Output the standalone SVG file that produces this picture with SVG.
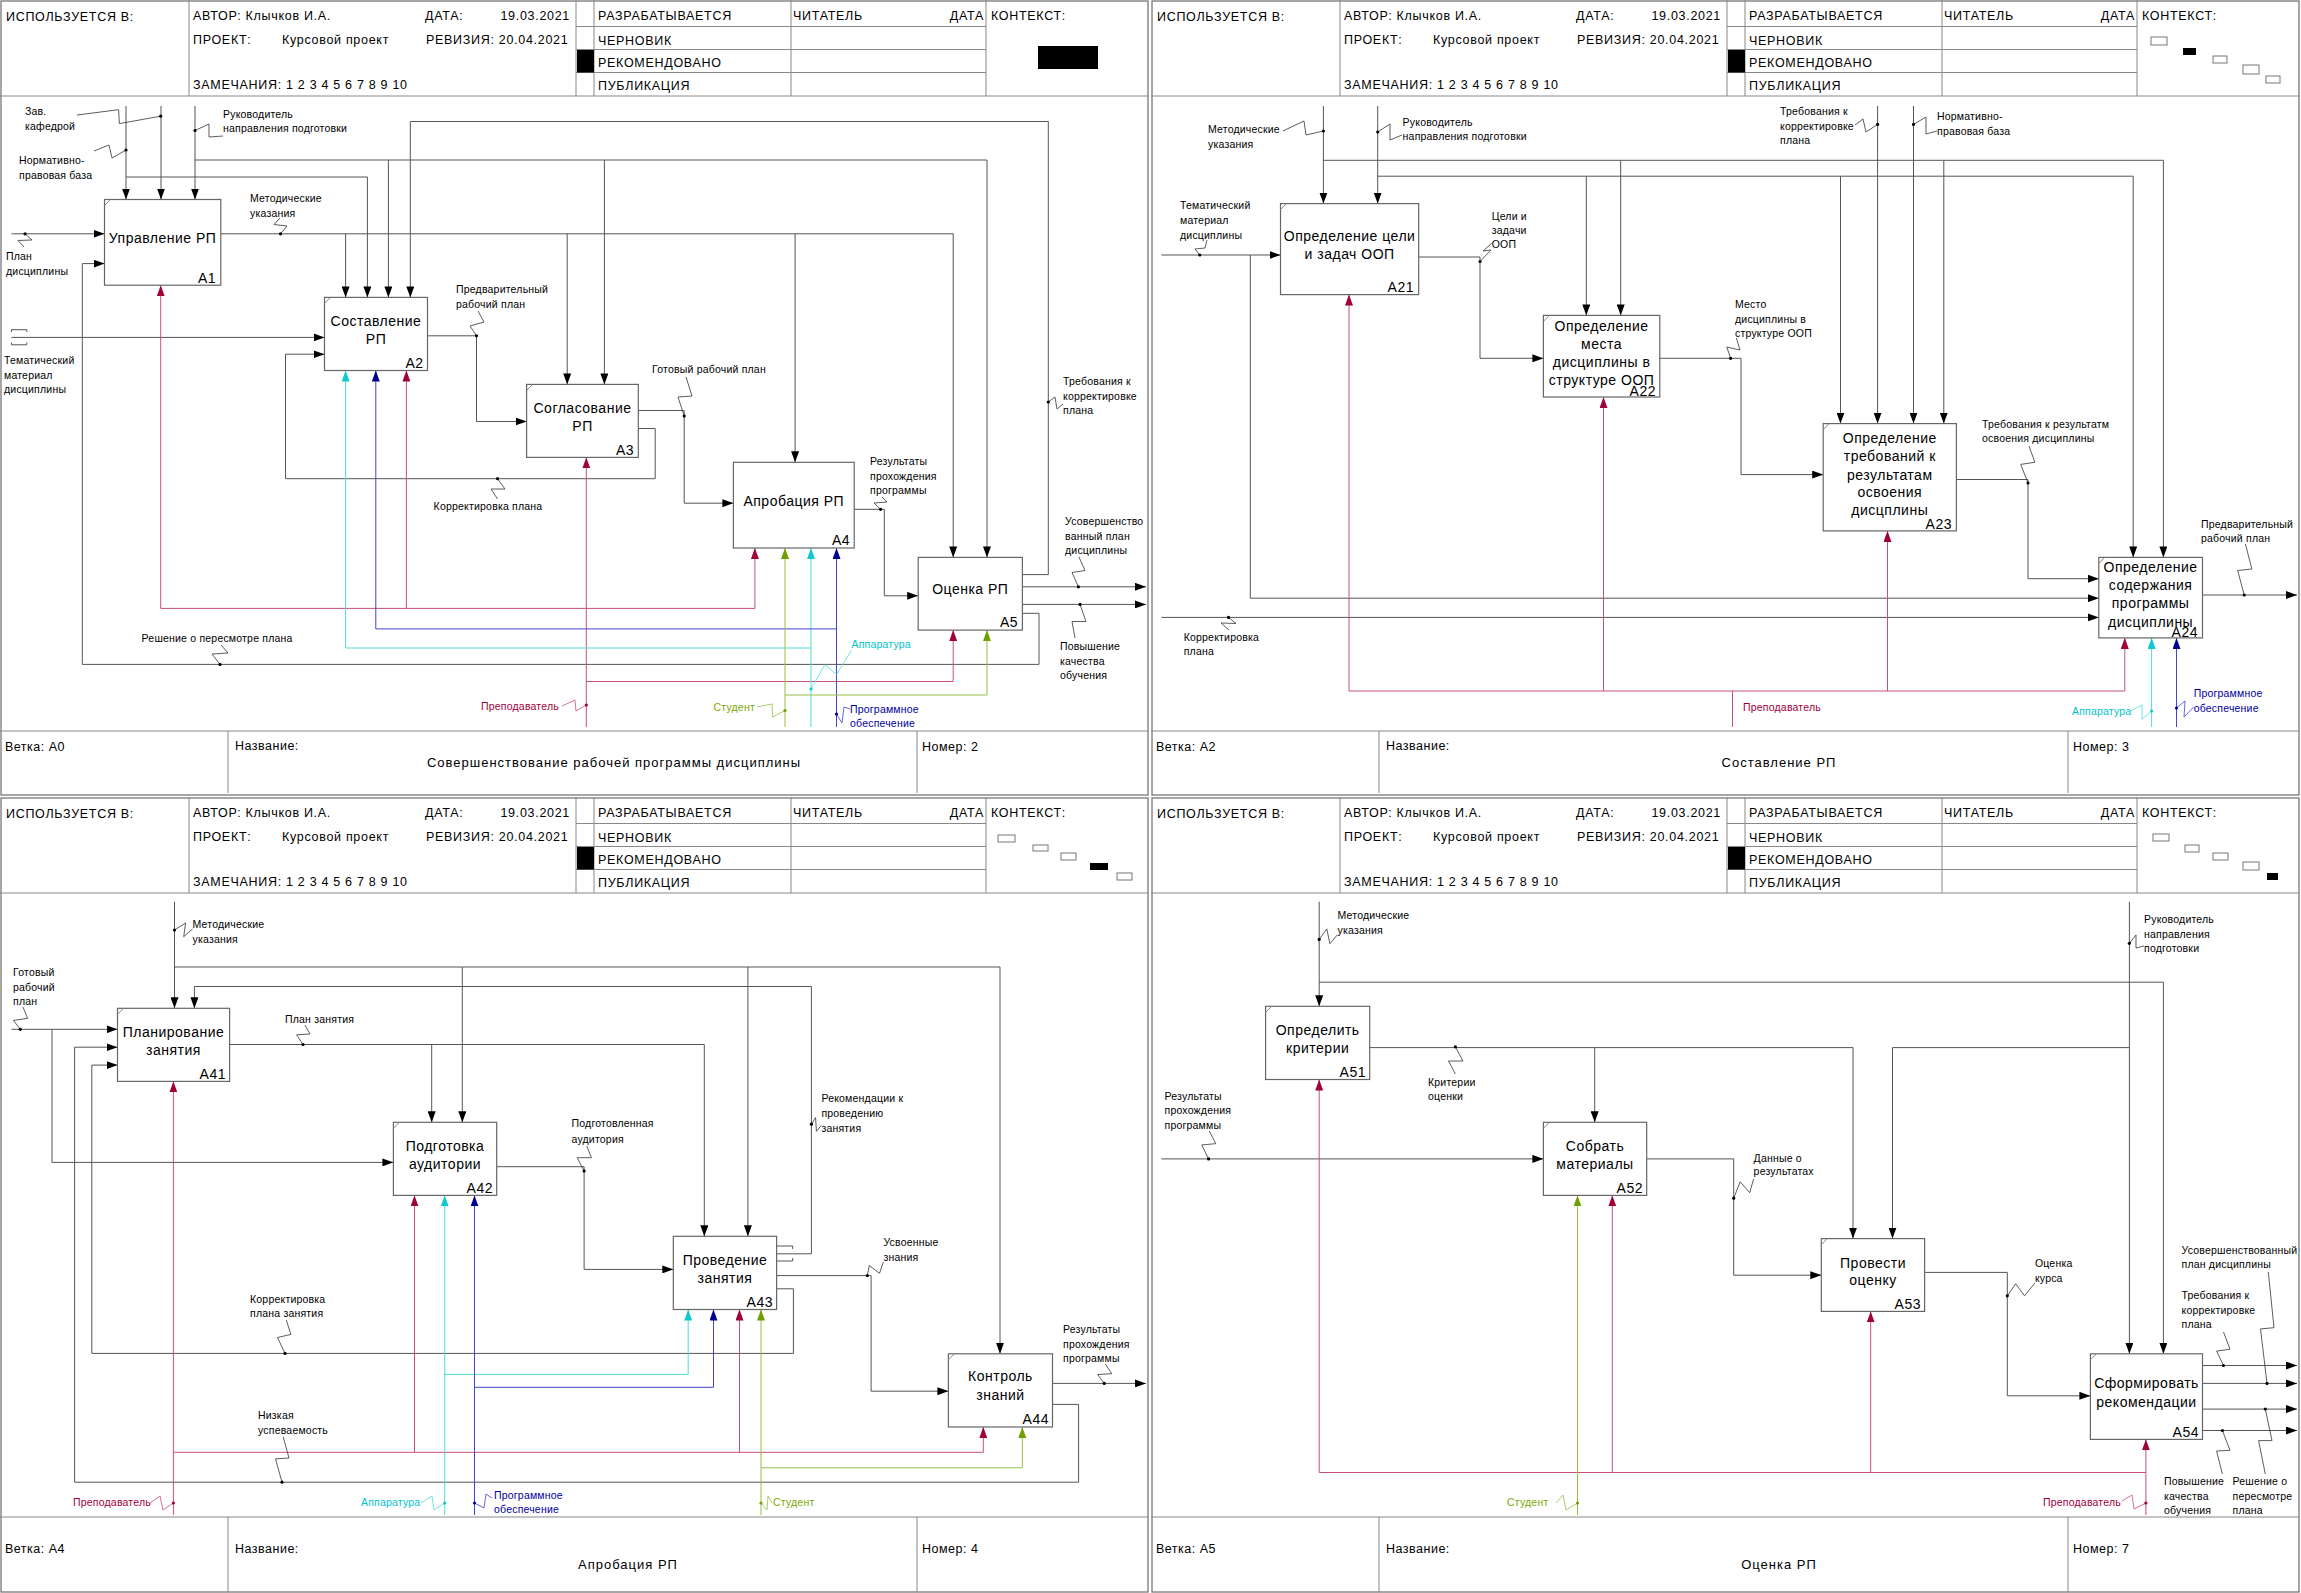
<svg xmlns="http://www.w3.org/2000/svg" width="2301" height="1593" viewBox="0 0 2301 1593">
<style>
text{font-family:"Liberation Sans",Arial,sans-serif;fill:#000}
.ht{font-size:12.5px;letter-spacing:0.7px}
.ft{font-size:12.5px;letter-spacing:0.5px}
.tt{font-size:13px;letter-spacing:1px;text-anchor:middle}
.pb{fill:none;stroke:#777;stroke-width:1.3}
.gl{fill:none;stroke:#888;stroke-width:1}
.bx{fill:#fff;stroke:#666;stroke-width:1.2}
.bt{font-size:14px;letter-spacing:0.5px;text-anchor:middle}
.bn{font-size:14px;text-anchor:end;letter-spacing:0.5px}
.lb{font-size:10.5px;letter-spacing:0.2px}
.k{fill:none;stroke:#555;stroke-width:1}
.ka{marker-end:url(#mk)}
.r{fill:none;stroke:#c8507a;stroke-width:1}
.ra{marker-end:url(#mr)}
.y{fill:none;stroke:#4fdcdc;stroke-width:1}
.ya{marker-end:url(#my)}
.u{fill:none;stroke:#4444cc;stroke-width:1}
.ua{marker-end:url(#mu)}
.g{fill:none;stroke:#96be46;stroke-width:1}
.ga{marker-end:url(#mg)}
.sq{fill:none;stroke:#333;stroke-width:0.8}
.sr{fill:none;stroke:#c8507a;stroke-width:0.8}
.sy{fill:none;stroke:#4fdcdc;stroke-width:0.8}
.su{fill:none;stroke:#4444cc;stroke-width:0.8}
.sg{fill:none;stroke:#96be46;stroke-width:0.8}
.d{fill:#000}
.tr{fill:#a0003c}.ty{fill:#00c4cc}.tu{fill:#0000a0}.tg{fill:#78aa00}
.cw{fill:#fff;stroke:#777;stroke-width:1}
</style>
<defs>
<marker id="mk" viewBox="0 0 11 8" refX="11" refY="4" markerWidth="11" markerHeight="8" markerUnits="userSpaceOnUse" orient="auto"><path d="M0,0L11,4L0,8z" fill="#000"/></marker>
<marker id="mr" viewBox="0 0 11 8" refX="11" refY="4" markerWidth="11" markerHeight="8" markerUnits="userSpaceOnUse" orient="auto"><path d="M0,0L11,4L0,8z" fill="#a0003c"/></marker>
<marker id="my" viewBox="0 0 11 8" refX="11" refY="4" markerWidth="11" markerHeight="8" markerUnits="userSpaceOnUse" orient="auto"><path d="M0,0L11,4L0,8z" fill="#10c8d0"/></marker>
<marker id="mu" viewBox="0 0 11 8" refX="11" refY="4" markerWidth="11" markerHeight="8" markerUnits="userSpaceOnUse" orient="auto"><path d="M0,0L11,4L0,8z" fill="#000090"/></marker>
<marker id="mg" viewBox="0 0 11 8" refX="11" refY="4" markerWidth="11" markerHeight="8" markerUnits="userSpaceOnUse" orient="auto"><path d="M0,0L11,4L0,8z" fill="#70a000"/></marker>
<g id="hdr">
<path class="gl" d="M0,96H1148M189,0V96M576,0V96M594,0V96M791,0V96M986,0V96M576,26.5H986M576,49.5H986M576,72.5H986"/>
<rect x="577" y="50" width="17" height="22.5" fill="#000"/>
<text class="ht" x="6" y="21">ИСПОЛЬЗУЕТСЯ В:</text>
<text class="ht" x="193" y="20">АВТОР: Клычков И.А.</text>
<text class="ht" x="425" y="20">ДАТА:</text>
<text class="ht" x="570" y="20" text-anchor="end">19.03.2021</text>
<text class="ht" x="193" y="44">ПРОЕКТ:</text>
<text class="ht" x="282" y="44">Курсовой проект</text>
<text class="ht" x="426" y="44">РЕВИЗИЯ: 20.04.2021</text>
<text class="ht" x="193" y="89">ЗАМЕЧАНИЯ: 1 2 3 4 5 6 7 8 9 10</text>
<text class="ht" x="598" y="20">РАЗРАБАТЫВАЕТСЯ</text>
<text class="ht" x="793" y="20">ЧИТАТЕЛЬ</text>
<text class="ht" x="984" y="20" text-anchor="end">ДАТА</text>
<text class="ht" x="991" y="20">КОНТЕКСТ:</text>
<text class="ht" x="598" y="45">ЧЕРНОВИК</text>
<text class="ht" x="598" y="67">РЕКОМЕНДОВАНО</text>
<text class="ht" x="598" y="90">ПУБЛИКАЦИЯ</text>
</g>
<g id="ftr">
<path class="gl" d="M0,0H1148M228,0V62M917,0V62"/>
<text class="ft" x="235" y="19">Название:</text>
</g>
<g id="ftr2">
<path class="gl" d="M0,0H1148M228,0V75M917,0V75"/>
<text class="ft" x="235" y="36">Название:</text>
</g>
</defs>

<!-- ================= PANEL A0 ================= -->
<g id="panel-A0">
<rect class="pb" x="1" y="1" width="1147" height="794"/>
<use href="#hdr"/>
<rect x="1038" y="46" width="60" height="23" fill="#000"/>
<g transform="translate(0,731)">
<use href="#ftr"/>
<text class="ft" x="5" y="20">Ветка: A0</text>
<text class="ft" x="922" y="20">Номер: 2</text>
<text class="tt" x="614" y="36">Совершенствование рабочей программы дисциплины</text>
</g>
<g id="connectors-A0">
<path class="k ka" d="M161,106V199.5"/>
<path class="k ka" d="M126,106V199.5"/>
<path class="k ka" d="M195,106V199.5"/>
<path class="k ka" d="M126,177H367.4V297.4"/>
<path class="k ka" d="M195,160H388.4V297.4"/>
<path class="k ka" d="M388.4,160H604.4V384.4"/>
<path class="k ka" d="M604.4,160H987V557.4"/>
<path class="k ka" d="M1022.4,574.6H1048.3V121.5H410.3V297.4"/>
<path class="k ka" d="M220.8,233.8H953.2V557.4"/>
<path class="k ka" d="M345.6,233.8V297.4"/>
<path class="k ka" d="M567.2,233.8V384.4"/>
<path class="k ka" d="M795.1,233.8V462.3"/>
<path class="k ka" d="M11.5,233.8H104.5"/>
<path class="k ka" d="M1022.4,613.3H1039V664.4H82.3V263.6H104.5"/>
<path class="k ka" d="M11.5,337.4H324.5"/>
<path class="k" d="M11.5,332V329.7H26.8V332M11.5,342.5V344.8H26.8V342.5"/>
<path class="k ka" d="M638.3,428.5H655.2V478.7H285.5V354.2H324.5"/>
<path class="k ka" d="M427.5,335.8H476.5V421.5H526.6"/>
<path class="k ka" d="M638.3,410.5H684.2V503.2H733.4"/>
<path class="k ka" d="M854.2,509.3H884.3V595.8H918.2"/>
<path class="k ka" d="M1022.4,586.8H1146"/>
<path class="k ka" d="M1022.4,604.4H1146"/>
<path class="r ra" d="M586.3,727V457.4"/>
<path class="r" d="M160.7,608.4H754.9"/>
<path class="r ra" d="M160.7,608.4V285.2"/>
<path class="r ra" d="M406.4,608.4V370.5"/>
<path class="r ra" d="M754.9,608.4V548"/>
<path class="r ra" d="M586.3,681.5H953.2V630.1"/>
<path class="y ya" d="M811,727V548"/>
<path class="y ya" d="M811,648H345.6V370.5"/>
<path class="u ua" d="M836.5,727V548"/>
<path class="u ua" d="M836.5,628.9H375.8V370.5"/>
<path class="g ga" d="M785,727V548"/>
<path class="g ga" d="M785,695H987V630.1"/>
<path class="sq" d="M77,115L118.6,109.7L119.4,123.6L160.7,116.2"/>
<path class="sq" d="M94,151L109,145L112,158L126,150"/>
<path class="sq" d="M223,136L209,137L209,124L195,130.5"/>
<path class="sq" d="M280.5,233.8L287,226L274,224.5L280,218"/>
<path class="sq" d="M25,233.8L32,240L18,240.5L24,247"/>
<path class="sq" d="M220,664.4L212,654L228,653L221,645"/>
<path class="sq" d="M497.5,478.7L505,489L491,489L497.5,499"/>
<path class="sq" d="M476.5,335.8L470,326L484,322L478,311"/>
<path class="sq" d="M684.2,416L678,397L692,396L686,377"/>
<path class="sq" d="M880.5,509.3L874,503L887,502L882,497"/>
<path class="sq" d="M1048.3,402L1055,397L1057,409L1063,404"/>
<path class="sq" d="M1078.4,586.8L1072,572.5L1085,570.5L1079,557"/>
<path class="sq" d="M1080,604.4L1086,621.5L1072,621.5L1075,638"/>
<path class="sr" d="M562,706L575,700L576,711L586.3,705"/>
<path class="sy" d="M851.5,650L836.5,674.6L825,664.5L811,689"/>
<path class="su" d="M850,709L844,707L842,723L836.5,714"/>
<path class="sg" d="M757,707L772,704L772.5,717L785,710.5"/>
<circle class="d" cx="160.7" cy="116.2" r="1.6"/><circle class="d" cx="126" cy="150" r="1.6"/><circle class="d" cx="195" cy="130.5" r="1.6"/>
<circle class="d" cx="280.5" cy="233.8" r="1.6"/><circle class="d" cx="25" cy="233.8" r="1.6"/><circle class="d" cx="220" cy="664.4" r="1.6"/>
<circle class="d" cx="497.5" cy="478.7" r="1.6"/><circle class="d" cx="476.5" cy="335.8" r="1.6"/><circle class="d" cx="684.2" cy="416" r="1.6"/>
<circle class="d" cx="880.5" cy="509.3" r="1.6"/><circle class="d" cx="1048.3" cy="402" r="1.6"/><circle class="d" cx="1078.4" cy="586.8" r="1.6"/>
<circle class="d" cx="1080" cy="604.4" r="1.6"/>
<circle cx="586.3" cy="705" r="1.6" fill="#a0003c"/><circle cx="811" cy="689" r="1.6" fill="#10c8d0"/><circle cx="836.5" cy="714" r="1.6" fill="#000090"/><circle cx="785" cy="710.5" r="1.6" fill="#70a000"/>
<text class="lb" x="25" y="115">Зав.</text><text class="lb" x="25" y="130">кафедрой</text>
<text class="lb" x="19" y="164">Нормативно-</text><text class="lb" x="19" y="179">правовая база</text>
<text class="lb" x="223" y="118">Руководитель</text><text class="lb" x="223" y="132">направления подготовки</text>
<text class="lb" x="250" y="202">Методические</text><text class="lb" x="250" y="217">указания</text>
<text class="lb" x="6" y="260">План</text><text class="lb" x="6" y="275">дисциплины</text>
<text class="lb" x="4" y="364">Тематический</text><text class="lb" x="4" y="378.5">материал</text><text class="lb" x="4" y="393">дисциплины</text>
<text class="lb" x="456" y="293">Предварительный</text><text class="lb" x="456" y="308">рабочий план</text>
<text class="lb" x="433.6" y="510">Корректировка плана</text>
<text class="lb" x="652" y="373">Готовый рабочий план</text>
<text class="lb" x="870" y="465">Результаты</text><text class="lb" x="870" y="479.5">прохождения</text><text class="lb" x="870" y="494">программы</text>
<text class="lb" x="1063" y="385">Требования к</text><text class="lb" x="1063" y="399.5">корректировке</text><text class="lb" x="1063" y="414">плана</text>
<text class="lb" x="1065" y="525">Усовершенство</text><text class="lb" x="1065" y="539.5">ванный план</text><text class="lb" x="1065" y="554">дисциплины</text>
<text class="lb" x="1060" y="650">Повышение</text><text class="lb" x="1060" y="664.5">качества</text><text class="lb" x="1060" y="679">обучения</text>
<text class="lb" x="141.6" y="642">Решение о пересмотре плана</text>
<text class="lb tr" x="481" y="710">Преподаватель</text>
<text class="lb ty" x="851.5" y="648">Аппаратура</text>
<text class="lb tu" x="850" y="713">Программное</text><text class="lb tu" x="850" y="727">обеспечение</text>
<text class="lb tg" x="713.5" y="711">Студент</text>
</g>
<g id="A1"><rect class="bx" x="104.5" y="199.5" width="116.3" height="85.7"/><path class="gl" d="M104.5,205.5L110.5,199.5"/><text class="bt" x="162.6" y="243">Управление РП</text><text class="bn" x="216" y="283">A1</text></g>
<g id="A2"><rect class="bx" x="324.5" y="297.4" width="103" height="73.1"/><path class="gl" d="M324.5,303.4L330.5,297.4"/><text class="bt" x="376" y="325.5">Составление</text><text class="bt" x="376" y="344">РП</text><text class="bn" x="423.5" y="368">A2</text></g>
<g id="A3"><rect class="bx" x="526.6" y="384.4" width="111.7" height="73"/><path class="gl" d="M526.6,390.4L532.6,384.4"/><text class="bt" x="582.5" y="413">Согласование</text><text class="bt" x="582.5" y="430.5">РП</text><text class="bn" x="634" y="455">A3</text></g>
<g id="A4"><rect class="bx" x="733.4" y="462.3" width="120.8" height="85.7"/><text class="bt" x="793.8" y="506">Апробация РП</text><text class="bn" x="850" y="545">A4</text></g>
<g id="A5"><rect class="bx" x="918.2" y="557.4" width="104.2" height="72.7"/><text class="bt" x="970.3" y="594">Оценка РП</text><text class="bn" x="1018" y="627">A5</text></g>
</g>

<!-- ================= PANEL A2 ================= -->
<g id="panel-A2">
<rect class="pb" x="1152" y="1" width="1147" height="794"/>
<use href="#hdr" x="1151"/>
<rect class="cw" x="2151" y="37" width="16" height="8"/>
<rect x="2183" y="48" width="13" height="7" fill="#000"/>
<rect class="cw" x="2213" y="56" width="14" height="7"/>
<rect class="cw" x="2243" y="65" width="16" height="9"/>
<rect class="cw" x="2266" y="76" width="14" height="7"/>
<g transform="translate(1151,731)">
<use href="#ftr"/>
<text class="ft" x="5" y="20">Ветка: A2</text>
<text class="ft" x="922" y="20">Номер: 3</text>
<text class="tt" x="628" y="36">Составление РП</text>
</g>
<g id="connectors-A2">
<path class="k ka" d="M1323.4,106V203.6"/>
<path class="k ka" d="M1377.7,106V203.6"/>
<path class="k ka" d="M1323.4,160.3H1620.7V315.4"/>
<path class="k ka" d="M1620.7,160.3H1943.8V423.6"/>
<path class="k ka" d="M1943.8,160.3H2163.4V557.4"/>
<path class="k ka" d="M1377.7,176.2H1586.3V315.4"/>
<path class="k ka" d="M1586.3,176.2H1840.5V423.6"/>
<path class="k ka" d="M1840.5,176.2H2133.2V557.4"/>
<path class="k ka" d="M1877.6,106V423.6"/>
<path class="k ka" d="M1913.5,106V423.6"/>
<path class="k ka" d="M1161.5,255H1280.5"/>
<path class="k ka" d="M1250.3,255V598.2H2098.8"/>
<path class="k ka" d="M1161.5,617.4H2098.8"/>
<path class="k ka" d="M1418.7,257H1480V358.3H1543.4"/>
<path class="k ka" d="M1659.8,358.3H1741V474.6H1823.2"/>
<path class="k ka" d="M1956.4,479.5H2028V578.7H2098.8"/>
<path class="k ka" d="M2202.5,595H2297"/>
<path class="r" d="M1732.5,727V691M1349,691H2124.8"/>
<path class="r ra" d="M1349,691V294.6"/>
<path class="r ra" d="M1603.5,691V397"/>
<path class="r ra" d="M1887.5,691V530.9"/>
<path class="r ra" d="M2124.8,691V637.9"/>
<path class="y ya" d="M2151.6,727V637.9"/>
<path class="u ua" d="M2176.5,727V637.9"/>
<path class="sq" d="M1283,131L1304,121L1306,135L1323.4,131"/>
<path class="sq" d="M1402,135L1390,140L1390,124L1377.7,132"/>
<path class="sq" d="M1855,125L1863,119L1866,132L1877.6,124.4"/>
<path class="sq" d="M1937,131L1926,134L1926,117L1913.5,124.4"/>
<path class="sq" d="M1207,240L1205,248L1195,249L1199.8,255"/>
<path class="sq" d="M1228.5,617.4L1236,623.5L1221,623L1229,630"/>
<path class="sq" d="M1480,261.5L1491,250L1483,251L1492,243"/>
<path class="sq" d="M1730.6,358.3L1726.8,347L1740,350L1736.4,338"/>
<path class="sq" d="M2028,483L2020.7,464.4L2034.9,462.3L2029,446"/>
<path class="sq" d="M2244.2,595L2237.7,570.5L2251.9,569L2245.4,544"/>
<path class="sy" d="M2130.5,711L2142,705L2142,719.4L2151.6,711"/>
<path class="su" d="M2193.7,707L2184,717L2185,701L2176.5,708"/>
<circle class="d" cx="1323.4" cy="131" r="1.6"/><circle class="d" cx="1377.7" cy="132" r="1.6"/><circle class="d" cx="1877.6" cy="124.4" r="1.6"/>
<circle class="d" cx="1913.5" cy="124.4" r="1.6"/><circle class="d" cx="1199.8" cy="255" r="1.6"/><circle class="d" cx="1228.5" cy="617.4" r="1.6"/>
<circle class="d" cx="1480" cy="261.5" r="1.6"/><circle class="d" cx="1730.6" cy="358.3" r="1.6"/><circle class="d" cx="2028" cy="483" r="1.6"/>
<circle class="d" cx="2244.2" cy="595" r="1.6"/>
<circle cx="2151.6" cy="711" r="1.6" fill="#10c8d0"/><circle cx="2176.5" cy="708" r="1.6" fill="#000090"/>
<text class="lb" x="1208" y="133">Методические</text><text class="lb" x="1208" y="148">указания</text>
<text class="lb" x="1402.6" y="125.5">Руководитель</text><text class="lb" x="1402.6" y="140">направления подготовки</text>
<text class="lb" x="1780" y="115">Требования к</text><text class="lb" x="1780" y="129.5">корректировке</text><text class="lb" x="1780" y="144">плана</text>
<text class="lb" x="1937" y="120">Нормативно-</text><text class="lb" x="1937" y="134.5">правовая база</text>
<text class="lb" x="1180" y="209">Тематический</text><text class="lb" x="1180" y="224">материал</text><text class="lb" x="1180" y="239">дисциплины</text>
<text class="lb" x="1183.7" y="641">Корректировка</text><text class="lb" x="1183.7" y="655">плана</text>
<text class="lb" x="1491.7" y="219.5">Цели и</text><text class="lb" x="1491.7" y="234">задачи</text><text class="lb" x="1491.7" y="248">ООП</text>
<text class="lb" x="1735" y="308">Место</text><text class="lb" x="1735" y="322.5">дисциплины в</text><text class="lb" x="1735" y="337">структуре ООП</text>
<text class="lb" x="1982" y="428">Требования к результатм</text><text class="lb" x="1982" y="442">освоения дисциплины</text>
<text class="lb" x="2201" y="528">Предварительный</text><text class="lb" x="2201" y="542">рабочий план</text>
<text class="lb tr" x="1743" y="711">Преподаватель</text>
<text class="lb ty" x="2072" y="715">Аппаратура</text>
<text class="lb tu" x="2193.7" y="697">Программное</text><text class="lb tu" x="2193.7" y="712">обеспечение</text>
</g>
<g id="A21"><rect class="bx" x="1280.5" y="203.6" width="138.2" height="91"/><path class="gl" d="M1280.5,209.6L1286.5,203.6"/><text class="bt" x="1349.6" y="240.5">Определение цели</text><text class="bt" x="1349.6" y="259">и задач ООП</text><text class="bn" x="1414" y="292">A21</text></g>
<g id="A22"><rect class="bx" x="1543.4" y="315.4" width="116.4" height="81.6"/><path class="gl" d="M1543.4,321.4L1549.4,315.4"/><text class="bt" x="1601.6" y="331">Определение</text><text class="bt" x="1601.6" y="349">места</text><text class="bt" x="1601.6" y="367">дисциплины в</text><text class="bt" x="1601.6" y="385">структуре ООП</text><text class="bn" x="1656" y="396">A22</text></g>
<g id="A23"><rect class="bx" x="1823.2" y="423.6" width="133.2" height="107.3"/><path class="gl" d="M1823.2,429.6L1829.2,423.6"/><text class="bt" x="1889.8" y="443">Определение</text><text class="bt" x="1889.8" y="461">требований к</text><text class="bt" x="1889.8" y="479.6">результатам</text><text class="bt" x="1889.8" y="496.7">освоения</text><text class="bt" x="1889.8" y="515">дисцплины</text><text class="bn" x="1952" y="529">A23</text></g>
<g id="A24"><rect class="bx" x="2098.8" y="557.4" width="103.7" height="80.5"/><path class="gl" d="M2098.8,563.4L2104.8,557.4"/><text class="bt" x="2150.6" y="572">Определение</text><text class="bt" x="2150.6" y="589.8">содержания</text><text class="bt" x="2150.6" y="608">программы</text><text class="bt" x="2150.6" y="626.5">дисциплины</text><text class="bn" x="2198" y="636.5">A24</text></g>
</g>

<!-- ================= PANEL A4 ================= -->
<g id="panel-A4">
<rect class="pb" x="1" y="798" width="1147" height="794"/>
<use href="#hdr" y="797"/>
<rect class="cw" x="998" y="835" width="17" height="7"/>
<rect class="cw" x="1033" y="845" width="15" height="6"/>
<rect class="cw" x="1061" y="853" width="15" height="7"/>
<rect x="1090" y="863" width="18" height="7" fill="#000"/>
<rect class="cw" x="1117" y="873" width="15" height="7"/>
<g transform="translate(0,1517)">
<use href="#ftr2"/>
<text class="ft" x="5" y="36">Ветка: A4</text>
<text class="ft" x="922" y="36">Номер: 4</text>
<text class="tt" x="628" y="52">Апробация РП</text>
</g>
<g id="connectors-A4">
<path class="k ka" d="M174.5,901.7V1008.3"/>
<path class="k ka" d="M174.5,967H462.3V1122.3"/>
<path class="k ka" d="M462.3,967H747.9V1236.3"/>
<path class="k ka" d="M747.9,967H1000V1353.8"/>
<path class="k ka" d="M776.6,1253.8H811.4V986.5H194.4V1008.3"/>
<path class="k" d="M776.6,1246H792.7V1249M776.6,1261H792.7V1258"/>
<path class="k ka" d="M11.5,1029.3H117.5"/>
<path class="k ka" d="M52,1029.3V1162.4H393.4"/>
<path class="k ka" d="M1052.5,1404.4H1078.6V1482.2H74.6V1047.2H117.5"/>
<path class="k ka" d="M776.6,1288.8H793.4V1353.4H91.8V1065.1H117.5"/>
<path class="k ka" d="M229.6,1044.5H704.3V1236.3"/>
<path class="k ka" d="M431.7,1044.5V1122.3"/>
<path class="k ka" d="M496.7,1166.7H584.1V1269.4H673.3"/>
<path class="k ka" d="M776.6,1275.6H871.1V1391.2H948.4"/>
<path class="k ka" d="M1052.5,1383.4H1146"/>
<path class="r ra" d="M173.4,1515V1081.4"/>
<path class="r ra" d="M173.4,1452.3H983.3V1427"/>
<path class="r ra" d="M414.5,1452.3V1195.4"/>
<path class="r ra" d="M739.5,1452.3V1309.5"/>
<path class="y ya" d="M444.7,1515V1195.4"/>
<path class="y ya" d="M444.7,1374.4H688.2V1309.5"/>
<path class="u ua" d="M474.5,1515V1195.4"/>
<path class="u ua" d="M474.5,1387.3H713.5V1309.5"/>
<path class="g ga" d="M761,1515V1309.5"/>
<path class="g ga" d="M761,1467.8H1022.3V1427"/>
<path class="sq" d="M192.5,929L183.7,936.7L185.6,923L174.5,930"/>
<path class="sq" d="M20.3,1029.3L13.4,1020.4L27.6,1018.4L23,1007"/>
<path class="sq" d="M303,1044.5L296.6,1034.8L310,1034L305,1025"/>
<path class="sq" d="M584.1,1171L577.2,1157.7L591.4,1157.7L586.8,1146"/>
<path class="sq" d="M811.4,1124.2L815.6,1117.6L816.4,1131.3L821.4,1125.4"/>
<path class="sq" d="M867.3,1275.6L869.3,1265.5L879.5,1273.3L883.4,1262"/>
<path class="sq" d="M1104.2,1383.4L1097.7,1374.5L1111.8,1373.7L1105.3,1364"/>
<path class="sq" d="M285,1353.4L277.5,1337.5L290.9,1334.4L286.3,1320"/>
<path class="sq" d="M282,1482.2L275.5,1458.9L289,1458L283.2,1437"/>
<path class="sr" d="M150,1503L160,1496L163,1510L173.4,1503"/>
<path class="sy" d="M421,1503L432,1496L434,1510L444.7,1503"/>
<path class="su" d="M492,1498L486,1494L484,1508L474.5,1503"/>
<path class="sg" d="M772,1503L768,1496L767,1510L761,1503"/>
<circle class="d" cx="174.5" cy="930" r="1.6"/><circle class="d" cx="20.3" cy="1029.3" r="1.6"/><circle class="d" cx="303" cy="1044.5" r="1.6"/>
<circle class="d" cx="584.1" cy="1171" r="1.6"/><circle class="d" cx="811.4" cy="1124.2" r="1.6"/><circle class="d" cx="867.3" cy="1275.6" r="1.6"/>
<circle class="d" cx="1104.2" cy="1383.4" r="1.6"/><circle class="d" cx="285" cy="1353.4" r="1.6"/><circle class="d" cx="282" cy="1482.2" r="1.6"/>
<circle cx="173.4" cy="1503" r="1.6" fill="#a0003c"/><circle cx="444.7" cy="1503" r="1.6" fill="#10c8d0"/><circle cx="474.5" cy="1503" r="1.6" fill="#000090"/><circle cx="761" cy="1503" r="1.6" fill="#70a000"/>
<text class="lb" x="192.5" y="928">Методические</text><text class="lb" x="192.5" y="942.5">указания</text>
<text class="lb" x="13" y="976">Готовый</text><text class="lb" x="13" y="991">рабочий</text><text class="lb" x="13" y="1005">план</text>
<text class="lb" x="285" y="1022.5">План занятия</text>
<text class="lb" x="571.5" y="1127">Подготовленная</text><text class="lb" x="571.5" y="1143">аудитория</text>
<text class="lb" x="821.4" y="1102">Рекомендации к</text><text class="lb" x="821.4" y="1116.5">проведению</text><text class="lb" x="821.4" y="1131.5">занятия</text>
<text class="lb" x="883.4" y="1246">Усвоенные</text><text class="lb" x="883.4" y="1260.5">знания</text>
<text class="lb" x="1063" y="1333">Результаты</text><text class="lb" x="1063" y="1347.5">прохождения</text><text class="lb" x="1063" y="1362">программы</text>
<text class="lb" x="250" y="1302.5">Корректировка</text><text class="lb" x="250" y="1317">плана занятия</text>
<text class="lb" x="258" y="1419">Низкая</text><text class="lb" x="258" y="1434">успеваемость</text>
<text class="lb tr" x="73" y="1506">Преподаватель</text>
<text class="lb ty" x="361" y="1506">Аппаратура</text>
<text class="lb tu" x="494" y="1499">Программное</text><text class="lb tu" x="494" y="1512.5">обеспечение</text>
<text class="lb tg" x="773" y="1506">Студент</text>
</g>
<g id="A41"><rect class="bx" x="117.5" y="1008.3" width="112.1" height="73.1"/><path class="gl" d="M117.5,1014.3L123.5,1008.3"/><text class="bt" x="173.5" y="1037">Планирование</text><text class="bt" x="173.5" y="1055.3">занятия</text><text class="bn" x="226" y="1079">A41</text></g>
<g id="A42"><rect class="bx" x="393.4" y="1122.3" width="103.3" height="73.1"/><path class="gl" d="M393.4,1128.3L399.4,1122.3"/><text class="bt" x="445" y="1151">Подготовка</text><text class="bt" x="445" y="1169.3">аудитории</text><text class="bn" x="493" y="1193">A42</text></g>
<g id="A43"><rect class="bx" x="673.3" y="1236.3" width="103.3" height="73.2"/><text class="bt" x="725" y="1264.7">Проведение</text><text class="bt" x="725" y="1283">занятия</text><text class="bn" x="773" y="1307">A43</text></g>
<g id="A44"><rect class="bx" x="948.4" y="1353.8" width="104.1" height="73.2"/><path class="gl" d="M948.4,1359.8L954.4,1353.8"/><text class="bt" x="1000.5" y="1381.4">Контроль</text><text class="bt" x="1000.5" y="1399.7">знаний</text><text class="bn" x="1049" y="1424">A44</text></g>
</g>

<!-- ================= PANEL A5 ================= -->
<g id="panel-A5">
<rect class="pb" x="1152" y="798" width="1147" height="794"/>
<use href="#hdr" x="1151" y="797"/>
<rect class="cw" x="2153" y="834" width="16" height="7"/>
<rect class="cw" x="2185" y="845" width="14" height="7"/>
<rect class="cw" x="2213" y="853" width="15" height="7"/>
<rect class="cw" x="2243" y="862" width="16" height="8"/>
<rect x="2267" y="873" width="11" height="7" fill="#000"/>
<g transform="translate(1151,1517)">
<use href="#ftr2"/>
<text class="ft" x="5" y="36">Ветка: A5</text>
<text class="ft" x="922" y="36">Номер: 7</text>
<text class="tt" x="628" y="52">Оценка РП</text>
</g>
<g id="connectors-A5">
<path class="k ka" d="M1319.2,901.7V1006.3"/>
<path class="k ka" d="M1319.2,982.2H2163.4V1353.8"/>
<path class="k ka" d="M2129.4,901.7V1353.8"/>
<path class="k ka" d="M2129.4,1047.6H1892.5V1238.6"/>
<path class="k ka" d="M1369.7,1047.6H1853V1238.6"/>
<path class="k ka" d="M1594.7,1047.6V1122.3"/>
<path class="k ka" d="M1161.5,1158.9H1543.4"/>
<path class="k ka" d="M1646.7,1158.9H1733.7V1275.2H1821.3"/>
<path class="k ka" d="M1924.6,1272.4H2007.3V1395.8H2090.4"/>
<path class="k ka" d="M2202.5,1365.5H2297"/>
<path class="k ka" d="M2202.5,1383.4H2297"/>
<path class="k ka" d="M2202.5,1409.1H2297"/>
<path class="k ka" d="M2202.5,1430.5H2297"/>
<path class="r" d="M1319.2,1472.5H2145.9"/>
<path class="r ra" d="M1319.2,1472.5V1079.5"/>
<path class="r ra" d="M1612.3,1472.5V1195.4"/>
<path class="r ra" d="M1870.7,1472.5V1311.4"/>
<path class="r ra" d="M2145.9,1515V1439.4"/>
<path class="g ga" d="M1577.5,1515V1195.4"/>
<path class="sq" d="M1337.5,934.7L1329.9,943.7L1326.8,928.9L1319.2,939.4"/>
<path class="sq" d="M2144,946L2136,948L2136,935L2129.4,943.3"/>
<path class="sq" d="M1455.4,1046.8L1463,1061L1448.5,1061L1455.4,1074"/>
<path class="sq" d="M1208.6,1158.9L1201.7,1144.9L1215.8,1143.7L1209.3,1131"/>
<path class="sq" d="M1733.7,1198.2L1740.2,1181.8L1749.7,1192.7L1753.6,1179"/>
<path class="sq" d="M2007.3,1295.8L2015.7,1283.8L2024.5,1295.8L2034.9,1283"/>
<path class="sq" d="M2223.5,1365.5L2216.6,1351.1L2230,1349.2L2223.5,1332"/>
<path class="sq" d="M2267,1383.4L2260.5,1328.9L2274,1327.7L2268.3,1272"/>
<path class="sq" d="M2222.4,1430.5L2230,1450.3L2216.6,1451L2222.4,1474"/>
<path class="sq" d="M2265.3,1409L2272,1440.6L2258.6,1440.6L2265.3,1474"/>
<path class="sr" d="M2122,1501L2132,1495L2134,1509L2145.9,1503"/>
<path class="sg" d="M1556,1503L1563,1495L1566,1510L1577.5,1503"/>
<circle class="d" cx="1319.2" cy="939.4" r="1.6"/><circle class="d" cx="2129.4" cy="943.3" r="1.6"/><circle class="d" cx="1455.4" cy="1046.8" r="1.6"/>
<circle class="d" cx="1208.6" cy="1158.9" r="1.6"/><circle class="d" cx="1733.7" cy="1198.2" r="1.6"/><circle class="d" cx="2007.3" cy="1295.8" r="1.6"/>
<circle class="d" cx="2223.5" cy="1365.5" r="1.6"/><circle class="d" cx="2267" cy="1383.4" r="1.6"/><circle class="d" cx="2222.4" cy="1430.5" r="1.6"/>
<circle class="d" cx="2265.3" cy="1409" r="1.6"/>
<circle cx="2145.9" cy="1503" r="1.6" fill="#a0003c"/><circle cx="1577.5" cy="1503" r="1.6" fill="#70a000"/>
<text class="lb" x="1337.5" y="919">Методические</text><text class="lb" x="1337.5" y="934">указания</text>
<text class="lb" x="2144" y="923">Руководитель</text><text class="lb" x="2144" y="937.5">направления</text><text class="lb" x="2144" y="952">подготовки</text>
<text class="lb" x="1428" y="1085.5">Критерии</text><text class="lb" x="1428" y="1099.5">оценки</text>
<text class="lb" x="1164.5" y="1099.5">Результаты</text><text class="lb" x="1164.5" y="1114">прохождения</text><text class="lb" x="1164.5" y="1128.5">программы</text>
<text class="lb" x="1753.6" y="1161.7">Данные о</text><text class="lb" x="1753.6" y="1175.3">результатах</text>
<text class="lb" x="2034.9" y="1267">Оценка</text><text class="lb" x="2034.9" y="1282">курса</text>
<text class="lb" x="2181.5" y="1254">Усовершенствованный</text><text class="lb" x="2181.5" y="1268">план дисциплины</text>
<text class="lb" x="2181.5" y="1299">Требования к</text><text class="lb" x="2181.5" y="1313.5">корректировке</text><text class="lb" x="2181.5" y="1328">плана</text>
<text class="lb" x="2164" y="1485">Повышение</text><text class="lb" x="2164" y="1499.5">качества</text><text class="lb" x="2164" y="1514">обучения</text>
<text class="lb" x="2232.5" y="1485">Решение о</text><text class="lb" x="2232.5" y="1499.5">пересмотре</text><text class="lb" x="2232.5" y="1514">плана</text>
<text class="lb tr" x="2043" y="1506">Преподаватель</text>
<text class="lb tg" x="1507" y="1506">Студент</text>
</g>
<g id="A51"><rect class="bx" x="1265.6" y="1006.3" width="104.1" height="73.2"/><path class="gl" d="M1265.6,1012.3L1271.6,1006.3"/><text class="bt" x="1317.7" y="1035">Определить</text><text class="bt" x="1317.7" y="1053.4">критерии</text><text class="bn" x="1366" y="1077">A51</text></g>
<g id="A52"><rect class="bx" x="1543.4" y="1122.3" width="103.3" height="73.1"/><path class="gl" d="M1543.4,1128.3L1549.4,1122.3"/><text class="bt" x="1595" y="1151">Собрать</text><text class="bt" x="1595" y="1169.3">материалы</text><text class="bn" x="1643" y="1193">A52</text></g>
<g id="A53"><rect class="bx" x="1821.3" y="1238.6" width="103.3" height="72.8"/><path class="gl" d="M1821.3,1244.6L1827.3,1238.6"/><text class="bt" x="1873" y="1267.8">Провести</text><text class="bt" x="1873" y="1285.3">оценку</text><text class="bn" x="1921" y="1309">A53</text></g>
<g id="A54"><rect class="bx" x="2090.4" y="1353.8" width="112.1" height="85.6"/><path class="gl" d="M2090.4,1359.8L2096.4,1353.8"/><text class="bt" x="2146.5" y="1388.4">Сформировать</text><text class="bt" x="2146.5" y="1406.7">рекомендации</text><text class="bn" x="2199" y="1437">A54</text></g>
</g>
</svg>
